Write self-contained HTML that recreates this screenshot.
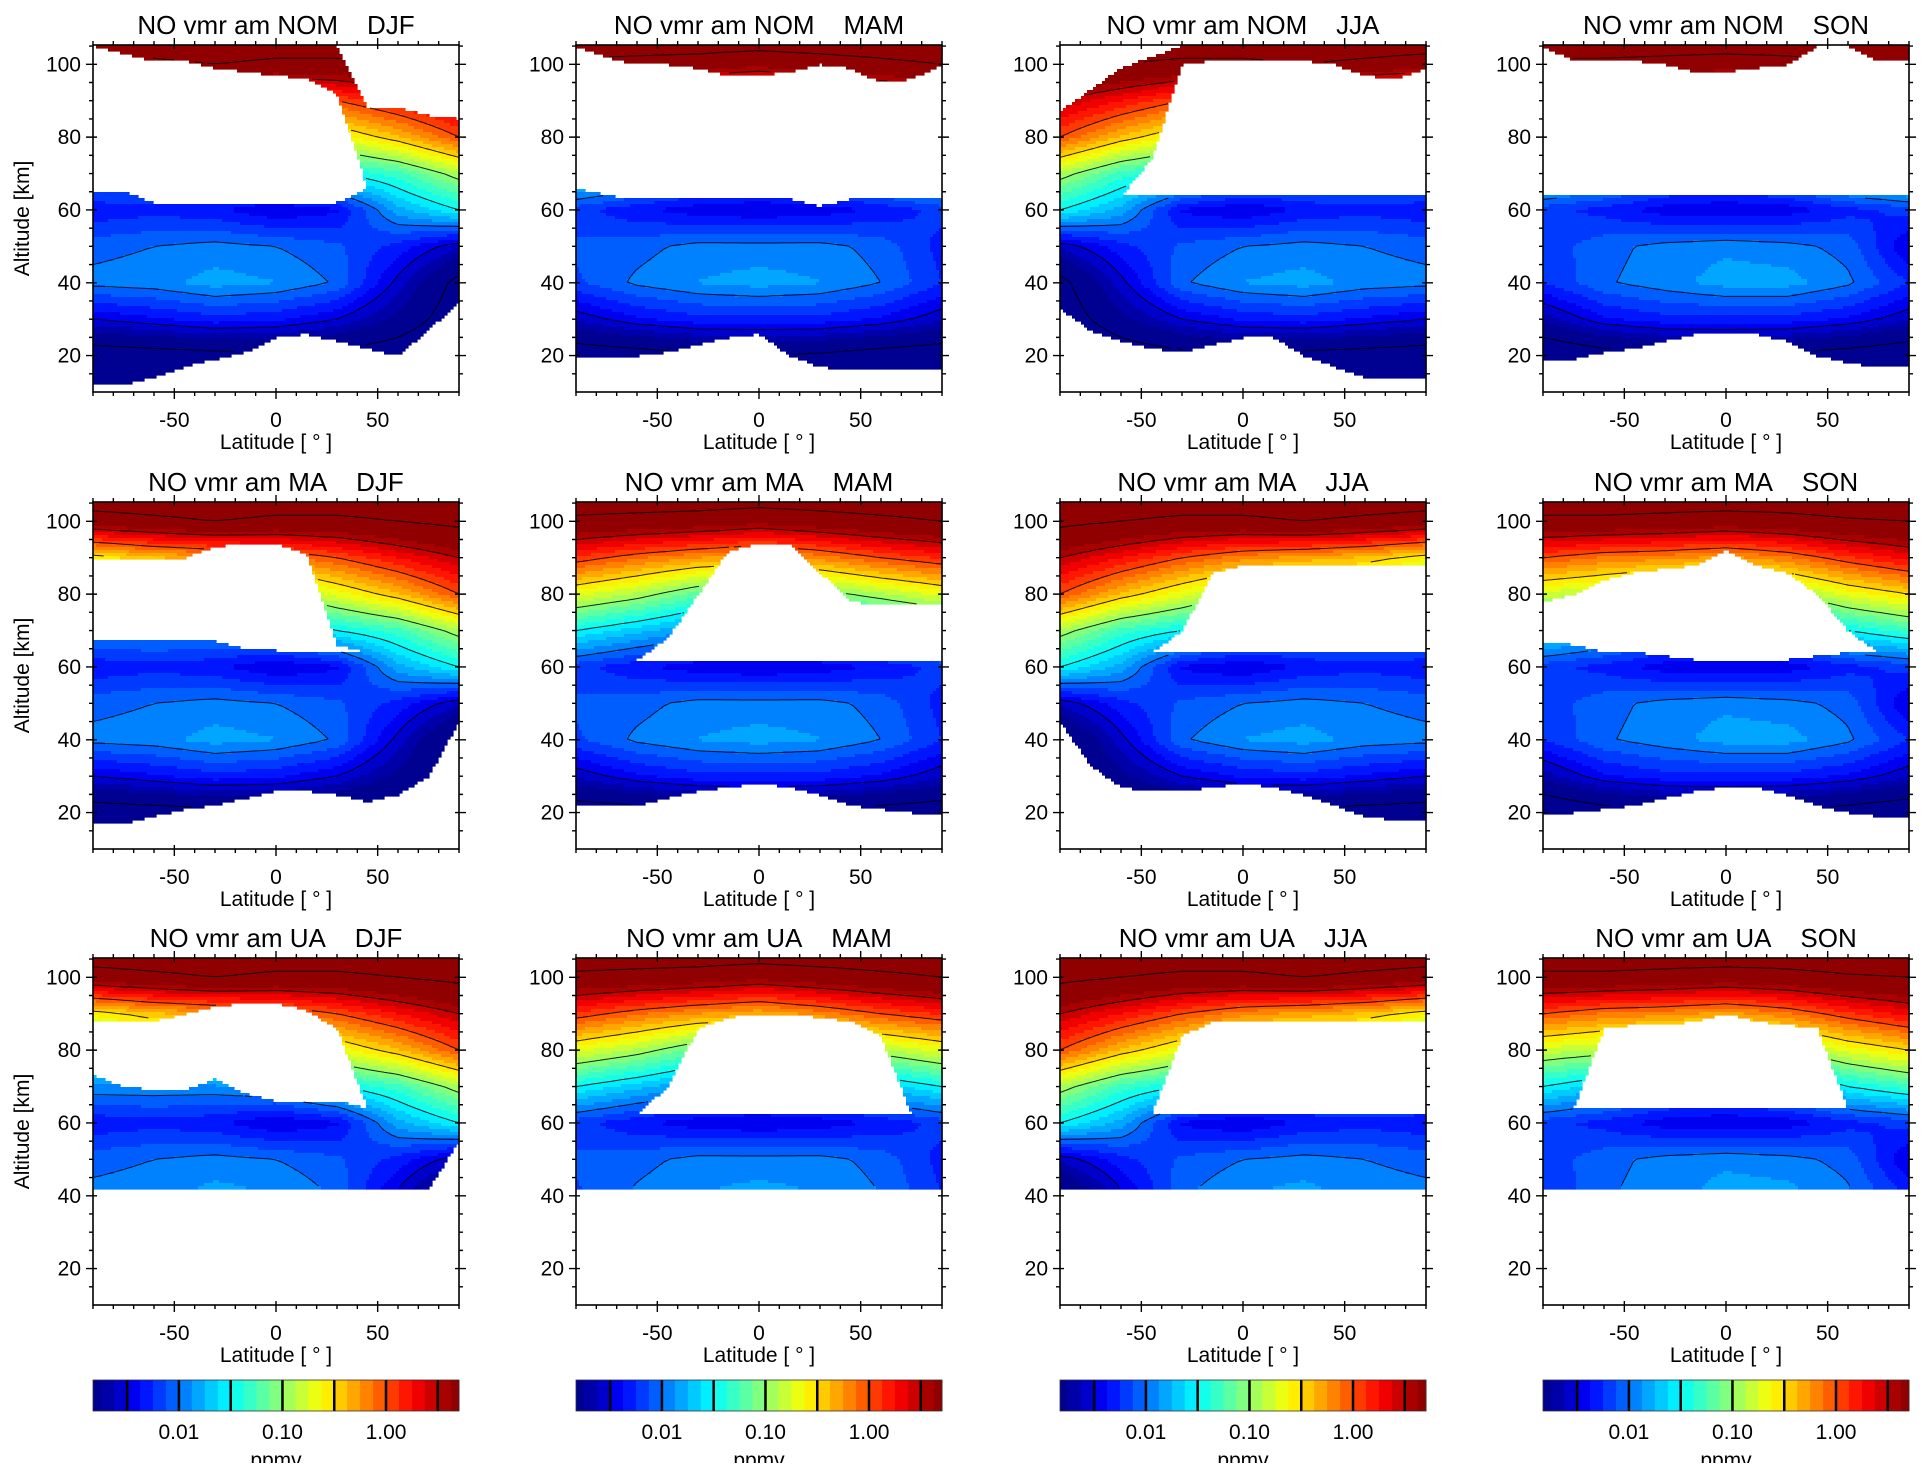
<!DOCTYPE html>
<html><head><meta charset="utf-8"><style>
body{margin:0;background:#fff;}
svg{display:block;font-family:"Liberation Sans",Arial,sans-serif;}
</style></head><body>
<svg id="fig" width="1928" height="1480" viewBox="0 0 1928 1480" xmlns="http://www.w3.org/2000/svg"></svg>
<script>
// ---------- data ----------
const lats = [-90,-60,-30,0,30,60,90];
const alts = [10,20,30,40,50,60,70,80,90,100,110];
const seasons = ['DJF','MAM','JJA','SON'];
const rows = ['NOM','MA','UA'];
const DJF = [
 [-3.6,-3.6,-3.6,-3.6,-3.6,-3.6,-3.6],
 [-3.2,-3.15,-3.1,-3.05,-3.1,-3.2,-3.4],
 [-2.5,-2.4,-2.3,-2.35,-2.5,-2.8,-3.2],
 [-1.95,-1.92,-1.82,-1.87,-2.02,-2.55,-3.1],
 [-2.05,-2.0,-1.95,-2.0,-2.1,-2.3,-2.6],
 [-2.35,-2.3,-2.35,-2.5,-2.4,-1.8,-1.5],
 [-1.9,-1.9,-1.9,-1.8,-1.5,-1.3,-0.9],
 [-1.2,-1.1,-1.1,-1.0,-0.7,-0.4,0.0],
 [-0.6,-0.4,-0.3,-0.2,0.0,0.25,0.5],
 [0.8,0.9,1.0,0.9,0.9,1.0,1.1],
 [1.5,1.5,1.5,1.5,1.5,1.5,1.5]];
const MAM = [
 [-3.6,-3.6,-3.6,-3.6,-3.6,-3.6,-3.6],
 [-3.2,-3.15,-3.05,-3.0,-3.05,-3.15,-3.2],
 [-2.6,-2.4,-2.3,-2.3,-2.3,-2.4,-2.6],
 [-2.15,-1.97,-1.87,-1.82,-1.87,-2.0,-2.25],
 [-2.1,-2.05,-1.95,-1.95,-1.95,-2.05,-2.3],
 [-2.2,-2.35,-2.45,-2.5,-2.45,-2.35,-2.2],
 [-1.5,-1.7,-1.9,-1.95,-1.85,-1.7,-1.5],
 [-0.7,-0.9,-1.2,-1.3,-1.1,-0.9,-0.7],
 [0.1,-0.1,-0.25,-0.35,-0.2,0.0,0.15],
 [0.9,0.85,0.8,0.7,0.8,0.9,1.0],
 [1.5,1.5,1.5,1.5,1.5,1.5,1.5]];
const JJA = [
 [-3.6,-3.6,-3.6,-3.6,-3.6,-3.6,-3.6],
 [-3.4,-3.2,-3.1,-3.05,-3.1,-3.15,-3.2],
 [-3.2,-2.8,-2.5,-2.35,-2.3,-2.4,-2.5],
 [-3.1,-2.55,-2.02,-1.87,-1.82,-1.92,-1.95],
 [-2.6,-2.3,-2.1,-2.0,-1.95,-2.0,-2.05],
 [-1.5,-1.8,-2.4,-2.5,-2.35,-2.3,-2.35],
 [-0.9,-1.3,-1.5,-1.8,-1.9,-1.9,-1.9],
 [0.0,-0.4,-0.7,-1.0,-1.1,-1.1,-1.2],
 [0.5,0.25,0.0,-0.2,-0.3,-0.4,-0.6],
 [1.1,1.0,0.9,0.9,1.0,0.9,0.8],
 [1.5,1.5,1.5,1.5,1.5,1.5,1.5]];
const SON = [
 [-3.6,-3.6,-3.6,-3.6,-3.6,-3.6,-3.6],
 [-3.3,-3.15,-3.05,-3.0,-3.05,-3.15,-3.25],
 [-2.7,-2.4,-2.3,-2.3,-2.3,-2.4,-2.6],
 [-2.25,-2.02,-1.92,-1.82,-1.82,-1.97,-2.25],
 [-2.2,-2.05,-1.95,-1.9,-1.95,-2.05,-2.5],
 [-2.2,-2.3,-2.45,-2.5,-2.45,-2.3,-2.2],
 [-1.5,-1.7,-1.9,-1.95,-1.85,-1.5,-1.3],
 [-0.8,-0.9,-1.1,-1.25,-1.0,-0.7,-0.5],
 [0.0,-0.15,-0.2,-0.3,-0.15,0.1,0.3],
 [0.9,0.9,0.85,0.8,0.85,0.95,1.0],
 [1.5,1.5,1.5,1.5,1.5,1.5,1.5]];
const grids = {DJF, MAM, JJA, SON};
// mask boundaries (km) at latitudes -90..90 step 15
const maskLats = [-90,-75,-60,-45,-30,-15,0,15,30,45,60,75,90];
const masks = {
 'NOM-DJF': {bottom:[12,12,14,17,19,21,25,26,24,22,20,27,35], gapLo:[65,65,62,62,62,62,62,62,62,66,66,62,62], gapHi:[105,103,101,101,99,98,97,96,92,66,66,62,62], top:[105,105,105,105,105,105,105,105,105,88,88,86,85]},
 'NOM-MAM': {bottom:[20,20,20,21,23,25,26,20,17,16,16,16,16], gapLo:[66,64,63,63,63,63,63,63,61,63,63,63,63], gapHi:[105,102,100,100,99,97,97,98,100,99,95,96,100], top:[105,105,105,105,105,105,105,105,105,105,105,105,105]},
 'NOM-JJA': {bottom:[33,27,24,22,21,23,25,25,20,17,14,14,14], gapLo:[64,64,64,64,64,64,64,64,64,64,64,64,64], gapHi:[64,64,64,74,100,101,101,101,101,100,97,96,99], top:[87,93,99,102,105,105,105,105,105,105,105,105,105]},
 'NOM-SON': {bottom:[19,19,21,22,24,26,26,26,24,20,18,17,17], gapLo:[64,64,64,64,64,64,64,64,64,64,64,64,64], gapHi:[105,101,101,101,100,98,98,99,100,105,105,101,101], top:[105,105,105,105,105,105,105,105,105,105,105,105,105]},
 'MA-DJF': {bottom:[17,17,19,21,22,24,26,26,25,23,25,30,45], gapLo:[67,67,67,67,67,65,64.5,64.5,64.5,64,64,64,64], gapHi:[90,90,90,90,93,94,94,91,66,64,64,64,64], top:[105,105,105,105,105,105,105,105,105,105,105,105,105]},
 'MA-MAM': {bottom:[22,22,22,24,26,27,28,27,25,22,21,20,20], gapLo:[62,62,62,62,62,62,62,62,62,62,62,62,62], gapHi:[62,62,62,68,80,92,94,94,86,78,77,77,77], top:[105,105,105,105,105,105,105,105,105,105,105,105,105]},
 'MA-JJA': {bottom:[45,33,27,26,26,27,28,27,25,22,19,18,18], gapLo:[64,64,64,64,64,64,64,64,64,64,64,64,64], gapHi:[64,64,64,64,70,86,88,88,88,88,88,88,88], top:[105,105,105,105,105,105,105,105,105,105,105,105,105]},
 'MA-SON': {bottom:[20,20,21,22,24,26,27,27,25,22,20,19,19], gapLo:[67,66,64,64,63,62,62,62,62,63,64,64,64], gapHi:[78,80,84,86,87,88,92,88,86,80,70,64,64], top:[105,105,105,105,105,105,105,105,105,105,105,105,105]},
 'UA-DJF': {bottom:[42,42,42,42,42,42,42,42,42,42,42,42,55], gapLo:[73,70,69,69,72,68,66,66,66,64,64,64,64], gapHi:[88,88,88,90,92,93,93,91,86,64,64,64,64], top:[105,105,105,105,105,105,105,105,105,105,105,105,105]},
 'UA-MAM': {bottom:[42,42,42,42,42,42,42,42,42,42,42,42,42], gapLo:[62.5,62.5,62.5,62.5,62.5,62.5,62.5,62.5,62.5,62.5,62.5,62.5,62.5], gapHi:[62.5,62.5,62.5,70,86,89,90,90,89,88,84,62.5,62.5], top:[105,105,105,105,105,105,105,105,105,105,105,105,105]},
 'UA-JJA': {bottom:[42,42,42,42,42,42,42,42,42,42,42,42,42], gapLo:[62.5,62.5,62.5,62.5,62.5,62.5,62.5,62.5,62.5,62.5,62.5,62.5,62.5], gapHi:[62.5,62.5,62.5,62.5,84,88,88,88,88,88,88,88,88], top:[105,105,105,105,105,105,105,105,105,105,105,105,105]},
 'UA-SON': {bottom:[42,42,42,42,42,42,42,42,42,42,42,42,42], gapLo:[64,64,64,64,64,64,64,64,64,64,64,64,64], gapHi:[64,64,86,87,87,88,90,88,87,86,64,64,64], top:[105,105,105,105,105,105,105,105,105,105,105,105,105]}
};
const yTicks = [20,40,60,80,100];
const xTicks = [-50,0,50];
const cbTicks = [-2,-1,0];
const cbTickLabels = ['0.01','0.10','1.00'];
const contourLevels = [-3,-2.5,-2,-1.5,-1,-0.5,0,0.5,1];

// ---------- layout ----------
const NS='http://www.w3.org/2000/svg';
const svg=document.getElementById('fig');
const colL=[93,576,1060,1543], rowT=[45,502,958], W=366, H=347;
const ALT_TOP=105.3, ALT_BOT=10.0;
const LOG_LO=-2.83, LOG_HI=0.705, STEP=0.125;
function mk(tag,attrs,parent){const e=document.createElementNS(NS,tag);for(const k in attrs)e.setAttribute(k,attrs[k]);(parent||svg).appendChild(e);return e;}
function jet(t){t=Math.max(0,Math.min(1,t));const c=v=>Math.round(255*Math.max(0,Math.min(1,v)));
 return 'rgb('+c(1.5-Math.abs(4*t-3))+','+c(1.5-Math.abs(4*t-2))+','+c(1.5-Math.abs(4*t-1))+')';}
function bandColor(v){let b=Math.floor(v/STEP);let m=(b+0.5)*STEP;m=Math.max(LOG_LO+0.06,Math.min(LOG_HI-0.06,m));return jet((m-LOG_LO)/(LOG_HI-LOG_LO));}
function interp1(xs,ys,x){if(x<=xs[0])return ys[0];for(let i=1;i<xs.length;i++){if(x<=xs[i]){const f=(x-xs[i-1])/(xs[i]-xs[i-1]);return ys[i-1]+f*(ys[i]-ys[i-1]);}}return ys[ys.length-1];}
function field(g,lat,alt){
 let i=0;while(i<alts.length-2&&alt>alts[i+1])i++;
 let j=0;while(j<lats.length-2&&lat>lats[j+1])j++;
 const fa=Math.max(0,Math.min(1,(alt-alts[i])/(alts[i+1]-alts[i])));
 const fl=Math.max(0,Math.min(1,(lat-lats[j])/(lats[j+1]-lats[j])));
 const a=g[i][j]*(1-fl)+g[i][j+1]*fl, b=g[i+1][j]*(1-fl)+g[i+1][j+1]*fl;
 return a*(1-fa)+b*fa;}
function inside(m,lat,alt){
 const bo=interp1(maskLats,m.bottom,lat), tp=interp1(maskLats,m.top,lat);
 const gl=interp1(maskLats,m.gapLo,lat), gh=interp1(maskLats,m.gapHi,lat);
 if(alt<bo||alt>tp)return false;
 if(gh>gl&&alt>gl&&alt<gh)return false;
 return true;}

function drawPanel(r,c){
 const L=colL[c],T=rowT[r];
 const key=rows[r]+'-'+seasons[c];
 const g=grids[seasons[c]], m=masks[key];
 const xOf=lat=>L+(lat+90)*W/180;
 const yOf=alt=>T+(ALT_TOP-alt)*H/(ALT_TOP-ALT_BOT);
 const grp=mk('g',{});
 
 
 const fill=mk('g',{},grp);
 
 
 const s=3;
 const nx=Math.ceil(W/s), ny=Math.ceil(H/s);
 const vals=[], ins=[];
 for(let iy=0;iy<=ny;iy++){vals.push([]);ins.push([]);
  for(let ix=0;ix<=nx;ix++){
   const lat=-90+(ix*s)/W*180, alt=ALT_TOP-(iy*s)/H*(ALT_TOP-ALT_BOT);
   vals[iy].push(field(g,lat,alt)); ins[iy].push(inside(m,lat,alt));}}
 for(let iy=0;iy<ny;iy++){
  let runStart=-1,runCol=null;
  const flush=(end)=>{if(runCol){const rc=mk('rect',{x:L+runStart*s,y:T+iy*s,width:Math.min((end-runStart)*s,W-runStart*s)+0.6,height:Math.min(s,H-iy*s)+0.6,fill:runCol},fill);
    
    }};
  for(let ix=0;ix<nx;ix++){
   const lat=-90+(ix*s+s/2)/W*180, alt=ALT_TOP-(iy*s+s/2)/H*(ALT_TOP-ALT_BOT);
   const col=inside(m,lat,alt)?bandColor(field(g,lat,alt)):null;
   if(col!==runCol){flush(ix);runStart=ix;runCol=col;}
  }
  flush(nx);
 }
 // contour lines (marching squares)
 let d='';
 for(const lv of contourLevels){
  for(let iy=0;iy<ny;iy++)for(let ix=0;ix<nx;ix++){
   if(!(ins[iy][ix]&&ins[iy][ix+1]&&ins[iy+1][ix]&&ins[iy+1][ix+1]))continue;
   const v0=vals[iy][ix],v1=vals[iy][ix+1],v2=vals[iy+1][ix+1],v3=vals[iy+1][ix];
   const pts=[];
   const x0=L+ix*s,y0=T+iy*s;
   const e=(a,b,ax,ay,bx,by)=>{if((a<lv)!==(b<lv)){const f=(lv-a)/(b-a);pts.push([ax+f*(bx-ax),ay+f*(by-ay)]);}};
   e(v0,v1,x0,y0,x0+s,y0);e(v1,v2,x0+s,y0,x0+s,y0+s);e(v2,v3,x0+s,y0+s,x0,y0+s);e(v3,v0,x0,y0+s,x0,y0);
   for(let k=0;k+1<pts.length;k+=2)d+='M'+pts[k][0].toFixed(1)+' '+pts[k][1].toFixed(1)+'L'+pts[k+1][0].toFixed(1)+' '+pts[k+1][1].toFixed(1);
  }}
 const cl=mk('path',{d:d,stroke:'#000','stroke-width':1,fill:'none','stroke-opacity':0.85},grp);
 
 
 // frame & ticks
 const fr=mk('rect',{x:L,y:T,width:W,height:H,fill:'none',stroke:'#000','stroke-width':1.6},grp);
 
 
 let td='';
 for(let a=15;a<=105;a+=5){const y=yOf(a);const big=a%20===0;const len=big?7:4;
  td+=`M${L-len} ${y}L${L+ (big?4:0)} ${y}M${L+W- (big?4:0)} ${y}L${L+W+len} ${y}`;}
 for(let lt=-90;lt<=90;lt+=10){const x=xOf(lt);const big=lt%50===0;const len=big?7:4;
  td+=`M${x} ${T+H-(big?4:0)}L${x} ${T+H+len}M${x} ${T-len}L${x} ${T+(big?4:0)}`;}
 const tk=mk('path',{d:td,stroke:'#000','stroke-width':1.4,fill:'none'},grp);
 
 
 for(const a of yTicks){const t=mk('text',{x:L-12,y:yOf(a)+7,'font-size':21,'text-anchor':'end'},grp);t.textContent=a;
  
  }
 for(const lt of xTicks){const t=mk('text',{x:xOf(lt),y:T+H+35,'font-size':21,'text-anchor':'middle'},grp);t.textContent=lt;
  
  }
 const xt=mk('text',{x:L+W/2,y:T+H+57,'font-size':21,'text-anchor':'middle'},grp);xt.textContent='Latitude [ ° ]';
 
 
 if(c===0){const yt=mk('text',{x:0,y:0,'font-size':21,'text-anchor':'middle',transform:`translate(29 ${T+H/2}) rotate(-90)`},grp);yt.textContent='Altitude [km]';
  
  }
 const ti=mk('text',{x:L+W/2,y:T-11,'font-size':26,'text-anchor':'middle'},grp);
 ti.textContent='NO vmr am '+rows[r]+'\u00a0\u00a0\u00a0\u00a0'+seasons[c];
 
 
}
for(let r=0;r<3;r++)for(let c=0;c<4;c++)drawPanel(r,c);

// colorbars
for(let c=0;c<4;c++){
 const L=colL[c],T=1380,Hc=31;
 const g=mk('g',{});
 
 
 const xOf=v=>L+(v-LOG_LO)/(LOG_HI-LOG_LO)*W;
 let b0=Math.floor(LOG_LO/STEP);
 for(let b=b0;b*STEP<LOG_HI;b++){
  const lo=Math.max(LOG_LO,b*STEP),hi=Math.min(LOG_HI,(b+1)*STEP);
  const rc=mk('rect',{x:xOf(lo),y:T,width:xOf(hi)-xOf(lo)+0.5,height:Hc,fill:bandColor((b+0.5)*STEP)},g);
  
  
 }
 let d='';
 for(let v=-2.5;v<LOG_HI;v+=0.5)d+=`M${xOf(v)} ${T}L${xOf(v)} ${T+Hc}`;
 const ln=mk('path',{d:d,stroke:'#000','stroke-width':2.5},g);
 
 
 const fr=mk('rect',{x:L,y:T,width:W,height:Hc,fill:'none',stroke:'#333','stroke-width':0.8},g);
 
 
 cbTicks.forEach((v,i)=>{const t=mk('text',{x:xOf(v),y:1439,'font-size':21,'text-anchor':'middle'},g);t.textContent=cbTickLabels[i];
  
  });
 const u=mk('text',{x:L+W/2,y:1467,'font-size':21,'text-anchor':'middle'},g);u.textContent='ppmv';
 
 
}
const cover=mk('rect',{x:0,y:1463,width:1928,height:17,fill:'#fff'});


</script>
</body></html>
